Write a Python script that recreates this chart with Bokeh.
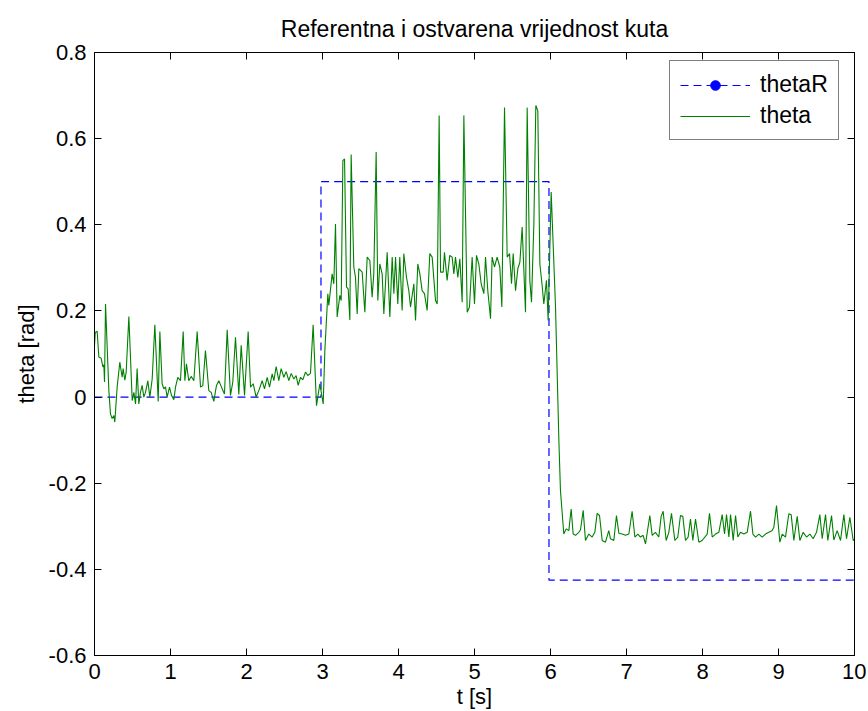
from bokeh.plotting import figure
from bokeh.models import (Range1d, FixedTicker, LinearAxis, Legend, LegendItem,
                          ColumnDataSource)
from bokeh.embed import file_html
from bokeh.resources import INLINE

# ---------------- data ----------------
title_text = "Referentna i ostvarena vrijednost kuta"
x_label = "t [s]"
y_label = "theta [rad]"

x_ticks = [0, 1, 2, 3, 4, 5, 6, 7, 8, 9, 10]
y_ticks = [-0.6, -0.4, -0.2, 0, 0.2, 0.4, 0.6, 0.8]
y_tick_labels = ["-0.6", "-0.4", "-0.2", "0", "0.2", "0.4", "0.6", "0.8"]

# reference signal thetaR
t_ref = [0.0, 2.98, 2.98, 5.98, 5.98, 10.0]
theta_ref = [0.0, 0.0, 0.5, 0.5, -0.425, -0.425]

t_seg1 = [0.0, 0.01, 0.035, 0.057, 0.088, 0.11, 0.123, 0.132, 0.145, 0.189,
          0.21, 0.232, 0.254, 0.267, 0.298, 0.333, 0.364, 0.377, 0.399, 0.417,
          0.452, 0.496, 0.518, 0.54, 0.561, 0.583, 0.605, 0.627, 0.649, 0.671,
          0.702, 0.728, 0.759, 0.794, 0.838, 0.86, 0.89, 0.912, 0.934, 0.956,
          0.987, 1.013, 1.044, 1.066, 1.096, 1.131, 1.167, 1.189, 1.21, 1.241,
          1.272, 1.307, 1.351, 1.395, 1.425, 1.46, 1.504, 1.535, 1.57, 1.605,
          1.636, 1.671, 1.71, 1.746, 1.789, 1.82, 1.855, 1.899, 1.93, 1.974,
          2.022, 2.053, 2.088, 2.127, 2.162, 2.206, 2.237, 2.272, 2.303, 2.338,
          2.36, 2.39, 2.425, 2.456, 2.491, 2.522, 2.557, 2.588, 2.623, 2.653,
          2.68, 2.71, 2.741, 2.776, 2.807, 2.842, 2.877, 2.921, 2.965, 3.009,
          3.031, 3.07]
v_seg1 = [0.12, 0.15, 0.153, 0.093, 0.09, 0.07, 0.075, 0.035, 0.216, 0.015,
          -0.039, -0.05, -0.043, -0.058, 0.023, 0.081, 0.046, 0.066, 0.039, 0.058,
          0.187, -0.008, 0.011, -0.016, 0.066, -0.016, 0.011, 0.027, 0.0, 0.011,
          0.038, 0.0, 0.042, 0.168, -0.01, 0.152, 0.031, 0.019, 0.024, 0.0,
          0.023, 0.004, -0.006, 0.023, 0.046, 0.038, 0.152, 0.038, 0.077, 0.038,
          0.048, 0.038, 0.152, 0.023, 0.027, 0.108, 0.015, 0.011, -0.01, 0.027,
          0.038, 0.023, 0.007, 0.156, 0.004, 0.035, 0.139, 0.006, 0.12, 0.004,
          0.152, 0.023, 0.031, 0.0, 0.015, 0.038, 0.019, 0.046, 0.023, 0.054,
          0.038, 0.071, 0.038, 0.066, 0.046, 0.059, 0.038, 0.055, 0.042, 0.05,
          0.027, 0.046, 0.04, 0.058, 0.05, 0.055, 0.168, -0.02, 0.031, -0.016,
          0.108, 0.24]

t_seg2 = [3.083, 3.127, 3.149, 3.171, 3.193, 3.228, 3.246, 3.268, 3.29, 3.316,
          3.338, 3.36, 3.377, 3.412, 3.434, 3.456, 3.478, 3.522, 3.557, 3.588,
          3.623, 3.653, 3.675, 3.706, 3.728, 3.754, 3.785, 3.807, 3.851, 3.886,
          3.917, 3.939, 3.961, 3.991, 4.017, 4.048, 4.07, 4.105, 4.136, 4.158,
          4.202, 4.224, 4.254, 4.281, 4.311, 4.342, 4.377, 4.412, 4.443, 4.487,
          4.509, 4.535, 4.553, 4.588, 4.605, 4.64, 4.675, 4.706, 4.728, 4.75,
          4.781, 4.807, 4.838, 4.86, 4.904, 4.934, 4.969, 5.0, 5.026, 5.057,
          5.088, 5.123, 5.145, 5.175, 5.211, 5.232, 5.263, 5.298, 5.333, 5.36,
          5.395, 5.43, 5.461, 5.487, 5.509, 5.54, 5.57, 5.597, 5.627, 5.671,
          5.693, 5.728, 5.75, 5.781, 5.807, 5.833, 5.86, 5.89, 5.912, 5.947,
          5.969, 6.009, 6.066, 6.11]
v_seg2 = [0.213, 0.286, 0.263, 0.402, 0.186, 0.236, 0.224, 0.549, 0.553, 0.255,
          0.251, 0.179, 0.563, 0.302, 0.278, 0.193, 0.298, 0.29, 0.197, 0.325,
          0.317, 0.232, 0.286, 0.569, 0.224, 0.309, 0.286, 0.193, 0.336, 0.186,
          0.325, 0.24, 0.325, 0.216, 0.325, 0.201, 0.333, 0.278, 0.247, 0.209,
          0.263, 0.178, 0.309, 0.286, 0.247, 0.24, 0.201, 0.333, 0.325, 0.224,
          0.216, 0.654, 0.29, 0.29, 0.336, 0.271, 0.329, 0.325, 0.286, 0.325,
          0.278, 0.321, 0.22, 0.654, 0.197, 0.209, 0.325, 0.216, 0.329, 0.309,
          0.263, 0.24, 0.325, 0.247, 0.182, 0.325, 0.302, 0.325, 0.302, 0.209,
          0.672, 0.325, 0.333, 0.263, 0.333, 0.247, 0.298, 0.313, 0.395, 0.197,
          0.672, 0.271, 0.22, 0.402, 0.677, 0.665, 0.309, 0.259, 0.216, 0.271,
          0.178, 0.476, 0.209, -0.1]

t_seg3 = [6.131, 6.175, 6.206, 6.241, 6.272, 6.298, 6.329, 6.373, 6.395, 6.43,
          6.46, 6.504, 6.548, 6.583, 6.614, 6.645, 6.68, 6.723, 6.767, 6.789,
          6.833, 6.868, 6.899, 6.943, 6.987, 7.031, 7.074, 7.11, 7.149, 7.184,
          7.219, 7.25, 7.307, 7.338, 7.381, 7.425, 7.456, 7.482, 7.522, 7.557,
          7.592, 7.636, 7.675, 7.71, 7.741, 7.776, 7.811, 7.842, 7.873, 7.908,
          7.952, 7.995, 8.062, 8.092, 8.128, 8.171, 8.215, 8.259, 8.29, 8.316,
          8.347, 8.369, 8.404, 8.435, 8.465, 8.5, 8.544, 8.588, 8.632, 8.663,
          8.698, 8.742, 8.785, 8.829, 8.873, 8.917, 8.939, 8.974, 9.018, 9.049,
          9.092, 9.136, 9.167, 9.202, 9.246, 9.281, 9.325, 9.369, 9.413, 9.456,
          9.5, 9.544, 9.575, 9.619, 9.649, 9.698, 9.728, 9.772, 9.816, 9.86,
          9.895, 9.939, 9.983, 10.0]
v_seg3 = [-0.217, -0.318, -0.306, -0.31, -0.26, -0.318, -0.321, -0.314, -0.308, -0.263,
          -0.333, -0.318, -0.325, -0.314, -0.27, -0.275, -0.333, -0.337, -0.31, -0.329,
          -0.333, -0.275, -0.316, -0.318, -0.321, -0.318, -0.265, -0.325, -0.318, -0.325,
          -0.321, -0.341, -0.275, -0.321, -0.314, -0.325, -0.277, -0.265, -0.333, -0.314,
          -0.27, -0.333, -0.325, -0.275, -0.277, -0.333, -0.325, -0.283, -0.333, -0.283,
          -0.337, -0.333, -0.318, -0.27, -0.325, -0.318, -0.314, -0.273, -0.318, -0.273,
          -0.325, -0.273, -0.333, -0.275, -0.325, -0.314, -0.318, -0.314, -0.265, -0.318,
          -0.325, -0.318, -0.325, -0.318, -0.314, -0.31, -0.302, -0.252, -0.337, -0.318,
          -0.325, -0.271, -0.273, -0.333, -0.277, -0.333, -0.314, -0.325, -0.318, -0.329,
          -0.314, -0.273, -0.329, -0.273, -0.333, -0.275, -0.332, -0.31, -0.333, -0.273,
          -0.329, -0.279, -0.333, -0.33]

t_theta = t_seg1 + t_seg2 + t_seg3
theta = v_seg1 + v_seg2 + v_seg3

# ---------------- figure ----------------
FONT = "Liberation Sans"
FS = "22px"
FS_BIG = "23px"

p = figure(frame_width=760, frame_height=603,
           x_range=Range1d(0, 10), y_range=Range1d(-0.6, 0.8),
           output_backend="svg", toolbar_location=None,
           min_border_left=94, min_border_right=12,
           min_border_top=52, min_border_bottom=54,
           background_fill_color="white", border_fill_color="white")

p.title.text = title_text
p.title.align = "center"
p.title.text_font = FONT
p.title.text_font_size = FS_BIG
p.title.text_font_style = "normal"
p.title.text_color = "black"
p.title.standoff = 22

p.xgrid.visible = False
p.ygrid.visible = False
p.outline_line_color = "black"
p.outline_line_width = 1

def style_axis(ax):
    ax.axis_line_color = "black"
    ax.major_tick_line_color = "black"
    ax.major_tick_in = 7
    ax.major_tick_out = 0
    ax.minor_tick_line_color = None
    ax.major_label_text_font = FONT
    ax.major_label_text_font_size = FS
    ax.major_label_text_color = "black"
    ax.axis_label_text_font = FONT
    ax.axis_label_text_font_size = FS
    ax.axis_label_text_font_style = "normal"
    ax.axis_label_text_color = "black"

xa = p.xaxis[0]
ya = p.yaxis[0]
style_axis(xa)
style_axis(ya)
xa.ticker = FixedTicker(ticks=x_ticks)
ya.ticker = FixedTicker(ticks=y_ticks)
ya.major_label_overrides = dict(zip(y_ticks, y_tick_labels))
xa.axis_label = x_label
ya.axis_label = y_label
xa.major_label_standoff = 8
xa.axis_label_standoff = 2
ya.major_label_standoff = 8
ya.axis_label_standoff = 7

right_ax = LinearAxis(ticker=FixedTicker(ticks=y_ticks))
top_ax = LinearAxis(ticker=FixedTicker(ticks=x_ticks))
for ax in (right_ax, top_ax):
    style_axis(ax)
    ax.major_label_text_font_size = "0px"
    ax.major_label_text_color = None
    ax.major_label_standoff = 0
p.add_layout(right_ax, "right")
p.add_layout(top_ax, "above")

src_ref = ColumnDataSource(data=dict(t=t_ref, v=theta_ref))
src_theta = ColumnDataSource(data=dict(t=t_theta, v=theta))

ref_line = p.line("t", "v", source=src_ref, line_color="#0000ff",
                  line_width=1.2, line_dash="8 5")
# dot marker of the thetaR style: drawn in the legend, muted (invisible) on the plot
ref_dot = p.scatter("t", "v", source=src_ref, size=6, marker="circle",
                    fill_color="#0000ff", line_color="#0000ff",
                    muted_fill_alpha=0, muted_line_alpha=0)
ref_dot.muted = True
theta_line = p.line("t", "v", source=src_theta, line_color="#008000",
                    line_width=1.1)

legend = Legend(items=[LegendItem(label="thetaR", renderers=[ref_line, ref_dot]),
                       LegendItem(label="theta", renderers=[theta_line])],
                location=(575, 515))
legend.label_text_font = FONT
legend.label_text_font_size = FS_BIG
legend.label_text_color = "black"
legend.glyph_width = 70
legend.glyph_height = 24
legend.label_height = 24
legend.label_standoff = 10
legend.spacing = 4
legend.padding = 10
legend.margin = 0
legend.border_line_color = "black"
legend.border_line_width = 1
legend.background_fill_color = "white"
legend.background_fill_alpha = 1.0
p.add_layout(legend)

open("out.html", "w").write(file_html(p, INLINE))
